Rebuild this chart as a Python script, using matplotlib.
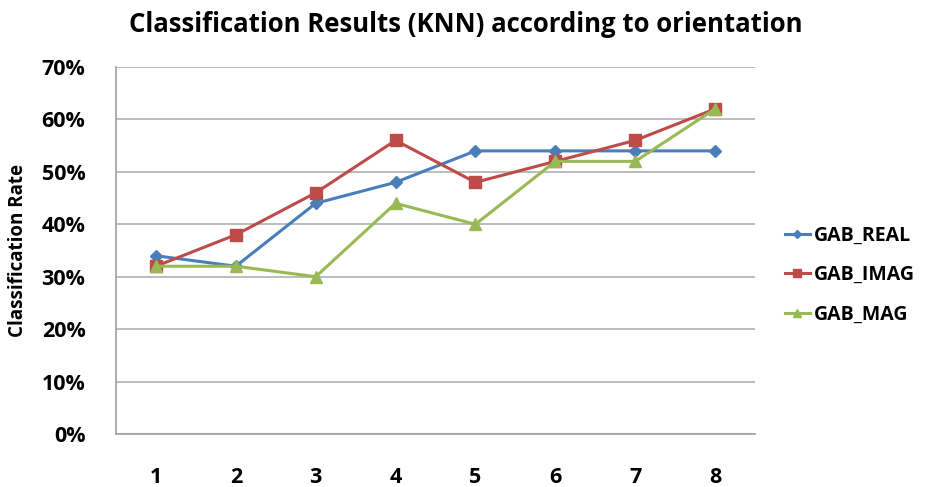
import matplotlib
matplotlib.use("Agg")
import matplotlib.pyplot as plt
from matplotlib.ticker import FuncFormatter, MultipleLocator

plt.rcParams['font.family'] = ['Open Sans', 'DejaVu Sans']

categories = [1, 2, 3, 4, 5, 6, 7, 8]
gab_real = [34, 32, 44, 48, 54, 54, 54, 54]
gab_imag = [32, 38, 46, 56, 48, 52, 56, 62]
gab_mag = [32, 32, 30, 44, 40, 52, 52, 62]
series_names = ["GAB_REAL", "GAB_IMAG", "GAB_MAG"]

fig = plt.figure(figsize=(9.32, 4.87), dpi=100)
ax = fig.add_axes([116/932, 1-434/487, (755-116)/932, (434-67)/487])

ax.plot(categories, gab_real, color='#4a7ebb', marker='D', markersize=6, lw=2.2, label=series_names[0])
ax.plot(categories, gab_imag, color='#be4b48', marker='s', markersize=8, lw=2.2, label=series_names[1])
ax.plot(categories, gab_mag, color='#98b954', marker='^', markersize=8, lw=2.2, label=series_names[2])

ax.set_xlim(0.5, 8.5)
ax.set_ylim(0, 70)
ax.yaxis.set_major_locator(MultipleLocator(10))
ax.yaxis.set_major_formatter(FuncFormatter(lambda v, p: f"{int(round(v))}%"))
ax.set_xticks(categories)
ax.grid(axis='y', color='#b0b0b0', lw=1.2)
ax.set_axisbelow(True)
for s in ['top', 'right']:
    ax.spines[s].set_visible(False)
for s in ['left', 'bottom']:
    ax.spines[s].set_color('#a0a0a0')
    ax.spines[s].set_linewidth(1.2)
ax.tick_params(axis='both', length=0, labelsize=15.5)
for lab in ax.get_xticklabels() + ax.get_yticklabels():
    lab.set_fontweight('bold')
ax.tick_params(axis='y', pad=22)
ax.tick_params(axis='x', pad=24)

ax.set_ylabel("Classification Rate", fontsize=13.5, fontweight='bold', labelpad=10)
fig.text(466/932, 1-25/487, "Classification Results (KNN) according to orientation",
         ha='center', va='center', fontsize=18.5, fontweight='bold')

leg = fig.legend(loc='center left', bbox_to_anchor=(767/932, 1-275/487), frameon=False,
                 prop={'weight': 'bold', 'size': 14}, handlelength=1.3, labelspacing=1.0,
                 handletextpad=0.2, markerscale=0.7)

fig.savefig("out.png", dpi=100)
